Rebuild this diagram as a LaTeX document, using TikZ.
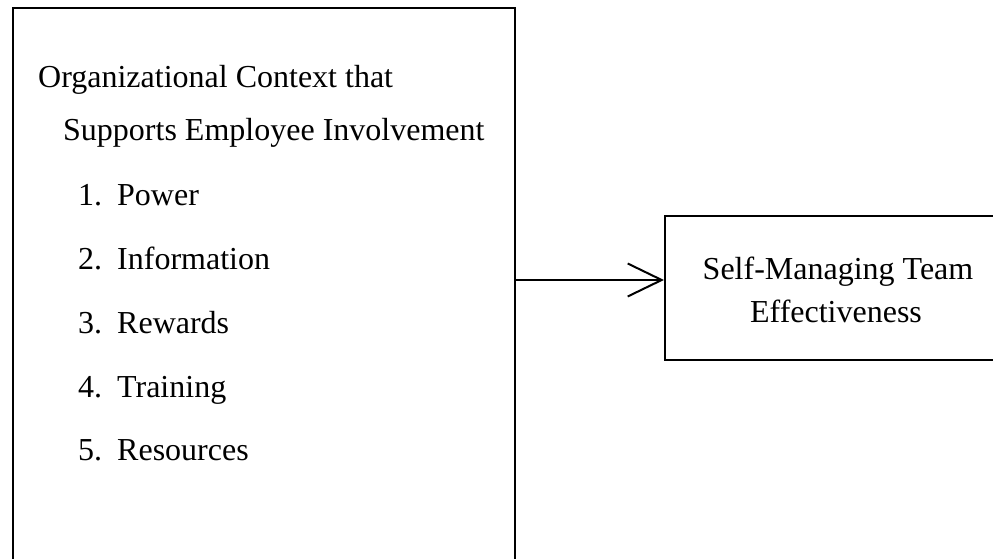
\documentclass[tikz,border=0pt]{standalone}
\usepackage{fontspec}
\setmainfont{Liberation Serif}
\usetikzlibrary{arrows.meta}
\begin{document}
\begin{tikzpicture}[x=1pt,y=-1pt,
  frame/.style={draw=black, line width=2pt, inner sep=0pt, anchor=north west},
  label/.style={inner sep=0pt, anchor=base west, font=\fontsize{32}{38}\selectfont},
  clabel/.style={inner sep=0pt, anchor=base, font=\fontsize{32}{38}\selectfont},
  link/.style={line width=2pt, -{Straight Barb[length=34pt,width=33pt,line width=2pt]}}]
\useasboundingbox (0,0) rectangle (993,559);
\clip (0,0) rectangle (993,559);
% left panel: organisational context
\node[frame, minimum width=502pt, minimum height=640pt] (context) at (12,7) {};
\node[label] (title1) at (38,88) {Organizational Context that};
\node[label] (title2) at (63,140) {Supports Employee Involvement};
\node[label] (n1) at (78,205) {1.};
\node[label] (i1) at (117,205) {Power};
\node[label] (n2) at (78,269) {2.};
\node[label] (i2) at (117,269) {Information};
\node[label] (n3) at (78,333) {3.};
\node[label] (i3) at (117,333) {Rewards};
\node[label] (n4) at (78,397) {4.};
\node[label] (i4) at (117,397) {Training};
\node[label] (n5) at (78,460) {5.};
\node[label] (i5) at (117,460) {Resources};
% right panel: outcome
\node[frame, minimum width=350pt, minimum height=144pt] (team) at (664,215) {};
\node[clabel] (out1) at (838,279) {Self-Managing Team};
\node[clabel] (out2) at (836,322) {Effectiveness};
% connector
\coordinate (arrowrow) at (0,280);
\draw[link] (context.east |- arrowrow) -- (team.west |- arrowrow);
\end{tikzpicture}
\end{document}
